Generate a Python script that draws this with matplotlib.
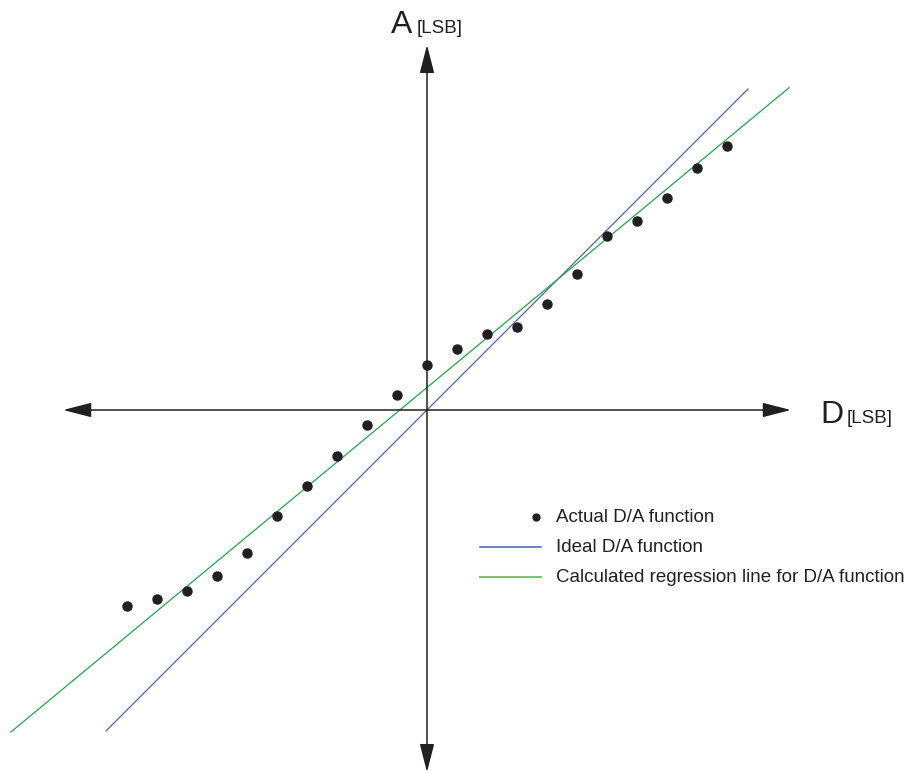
import matplotlib.pyplot as plt
import numpy as np

# ---- data (LSB units) ----
codes = np.arange(-10, 11)
actual = [-6.53, -6.3, -6.03, -5.53, -4.77, -3.53, -2.53, -1.53, -0.5, 0.5,
          1.5, 2.03, 2.53, 2.77, 3.53, 4.53, 5.8, 6.3, 7.07, 8.07, 8.8]
ideal_x = [-10.7, 10.7]
reg_x = [-13.87, 12.07]
reg_slope = 0.828
reg_offset = 0.75

legend_labels = ["Actual D/A function", "Ideal D/A function",
                 "Calculated regression line for D/A function"]

plt.rcParams['font.family'] = ['Liberation Sans', 'DejaVu Sans']

fig = plt.figure(figsize=(9.12, 7.74), dpi=100)
ax = fig.add_axes([0, 0, 1, 1])
ax.set_xlim(-427 / 30, (912 - 427) / 30)
ax.set_ylim(-(774 - 410) / 30, 410 / 30)
ax.axis('off')

# axes with arrow heads
arrow = dict(arrowstyle='<|-|>,head_length=1.75,head_width=0.45',
             color='#231f20', lw=1.1, mutation_scale=10,
             shrinkA=0, shrinkB=0)
ax.annotate('', xy=(12.13, 0), xytext=(-12.13, 0), arrowprops=arrow)
ax.annotate('', xy=(0, 12.17), xytext=(0, -12.07), arrowprops=arrow)

# axis labels
ax.text(-1.2, 12.58, 'A', fontsize=23, color='#231f20', ha='left', va='baseline')
ax.text(-0.33, 12.58, '[LSB]', fontsize=13.5, color='#231f20', ha='left', va='baseline')
ax.text(13.1, -0.45, 'D', fontsize=23, color='#231f20', ha='left', va='baseline')
ax.text(14.0, -0.45, '[LSB]', fontsize=13.5, color='#231f20', ha='left', va='baseline')

# lines
ax.plot(ideal_x, ideal_x, color='#4a62ad', lw=0.9)
reg_x = np.array(reg_x)
ax.plot(reg_x, reg_slope * reg_x + reg_offset, color='#1fa64a', lw=0.9)

# actual points
ax.plot(codes, actual, 'o', color='#231f20', ms=6.5, ls='none')

# legend (drawn by hand to match layout)
ax.plot([3.63], [-3.57], 'o', color='#231f20', ms=5)
ax.plot([1.77, 3.8], [-4.57, -4.57], color='#4a62ad', lw=1.1)
ax.plot([1.77, 3.8], [-5.57, -5.57], color='#7cc863', lw=1.5)
for i, lab in enumerate(legend_labels):
    ax.text(4.3, -3.57 - i, lab, fontsize=13.5, color='#231f20',
            ha='left', va='center')

fig.savefig('out.png', dpi=100)
